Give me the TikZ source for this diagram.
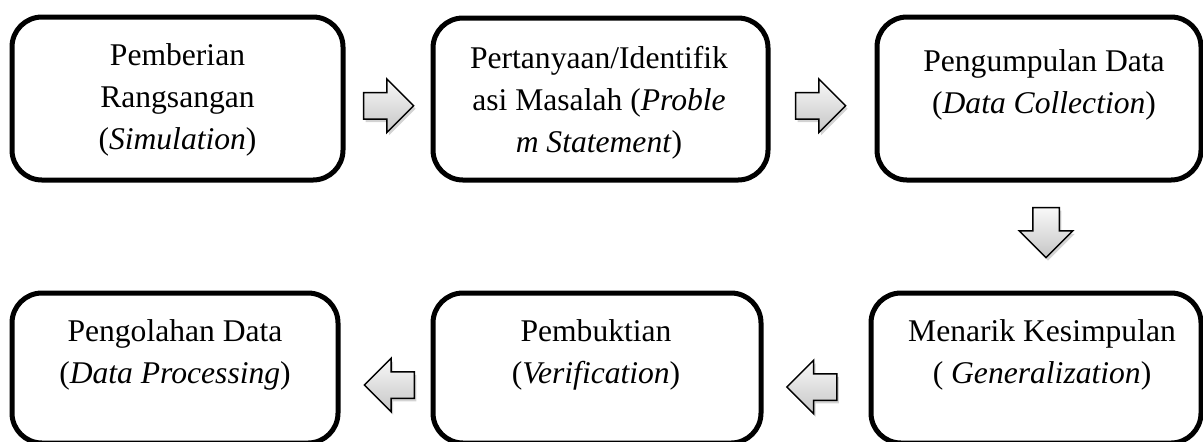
\documentclass[tikz,border=0pt]{standalone}
\usepackage{fontspec}
\setmainfont{Liberation Serif}
\usetikzlibrary{shapes,arrows,shadows,calc}

\begin{document}
\begin{tikzpicture}[x=0.5pt,y=-0.5pt,
                    box/.style={draw,line width=2.5pt,rounded corners=15pt,inner sep=0pt},
                    lbl/.style={align=center,inner sep=0pt,font=\fontsize{15.8}{21}\selectfont},
                    blockarrow/.style={single arrow,draw,line width=0.75pt,inner sep=6.25pt,
                      text height=0pt,text depth=0pt,text width=0pt,
                      single arrow head extend=6.75pt,minimum height=25pt,
                      top color=gray!5,bottom color=gray!45,
                      drop shadow={shadow xshift=1pt,shadow yshift=-1.5pt,opacity=0.35}}]
  \useasboundingbox (0,0) rectangle (1203,441);
  % boxes
  \node[box,minimum width=165.5pt,minimum height=81.5pt] (b1) at (177.5,98.5) {};
  \node[box,minimum width=167.5pt,minimum height=81pt]   (b2) at (600.5,99) {};
  \node[box,minimum width=162pt,minimum height=81.5pt]   (b3) at (1039,98.5) {};
  \node[box,minimum width=165pt,minimum height=75pt]     (b4) at (1036,368) {};
  \node[box,minimum width=164pt,minimum height=75pt]     (b5) at (597,368) {};
  \node[box,minimum width=163pt,minimum height=75pt]     (b6) at (175,368) {};
  % texts
  \node[lbl] (t1) at (177.5,100) {Pemberian\\Rangsangan\\(\textit{Simulation})};
  \node[lbl] (t2) at (599,102.5) {Pertanyaan/Identifik\\asi Masalah (\textit{Proble}\\\textit{m Statement})};
  \node[lbl] (t3) at (1044,85) {Pengumpulan Data\\(\textit{Data Collection})};
  \node[lbl] (t4) at (1042,354.5) {Menarik Kesimpulan\\( \textit{Generalization})};
  \node[lbl] (t5) at (596,355) {Pembuktian\\(\textit{Verification})};
  \node[lbl] (t6) at (175,355) {Pengolahan Data\\(\textit{Data Processing})};
  % arrows
  \node[blockarrow] (a12) at ($(b1.east)!0.5!(b2.west)+(-6,7)$) {};
  \node[blockarrow] (a23) at ($(b2.east)!0.5!(b3.west)+(-8.5,7)$) {};
  \node[blockarrow,shape border rotate=270] (a34) at ($(b3.south)!0.5!(b4.north)+(8.5,-10.5)$) {};
  \node[blockarrow,shape border rotate=180] (a45) at ($(b4.west)!0.5!(b5.east)+(2.5,19)$) {};
  \node[blockarrow,shape border rotate=180] (a56) at ($(b5.west)!0.5!(b6.east)+(10.5,17)$) {};
\end{tikzpicture}
\end{document}
